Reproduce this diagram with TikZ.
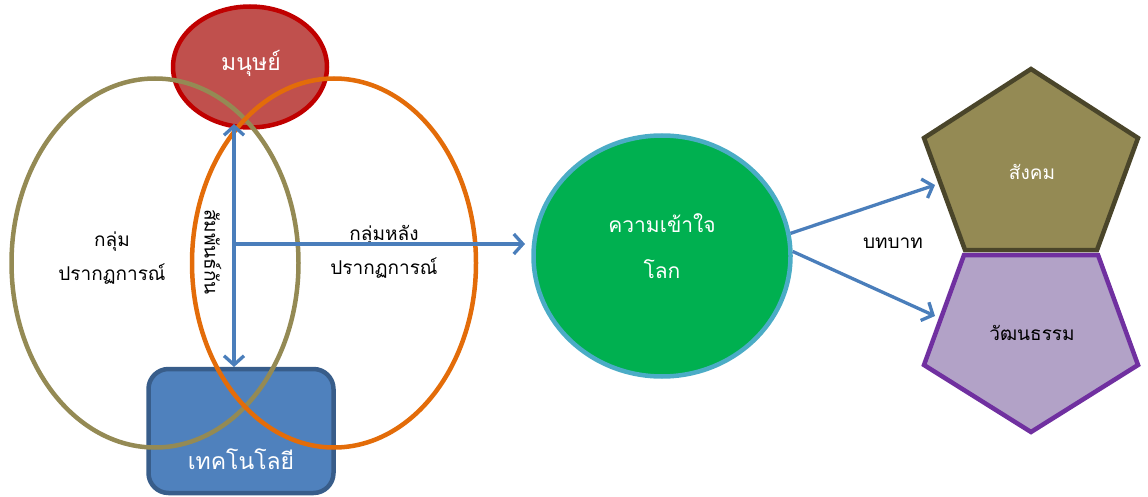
\documentclass[tikz,border=0pt]{standalone}
\usepackage{fontspec}
\newfontfamily\thaifont[Script=Thai]{Loma}
\usetikzlibrary{arrows.meta,shapes.geometric}
\definecolor{humfill}{HTML}{C0504D}
\definecolor{humline}{HTML}{C00000}
\definecolor{olive}{HTML}{948A54}
\definecolor{orng}{HTML}{E36C09}
\definecolor{techfill}{HTML}{4F81BD}
\definecolor{techline}{HTML}{385D8A}
\definecolor{arr}{HTML}{4A7EBB}
\definecolor{grn}{HTML}{00B050}
\definecolor{cyanl}{HTML}{4BACC6}
\definecolor{socline}{HTML}{4A452A}
\definecolor{culfill}{HTML}{B2A2C7}
\definecolor{culline}{HTML}{7030A0}
\tikzset{
  thaitxt/.style={font=\thaifont\fontsize{19}{34}\selectfont, align=center},
  whitetxt/.style={thaitxt, text=white},
  ring/.style={line width=4.5pt},
  conn/.style={draw=arr, line width=3.3pt, -{Straight Barb[length=9pt,width=20pt,line width=3.3pt]}},
  conn2/.style={draw=arr, line width=3.3pt, {Straight Barb[length=9pt,width=20pt,line width=3.3pt]}-{Straight Barb[length=9pt,width=20pt,line width=3.3pt]}},
}
\begin{document}
\begin{tikzpicture}[x=1pt,y=-1pt]
\useasboundingbox (0,0) rectangle (1148,497);
% human ellipse
\node[ellipse, minimum width=154pt, minimum height=121pt, fill=humfill, draw=humline, ring, inner sep=0pt] (hum) at (250,67) {};
\node[whitetxt, font=\thaifont\fontsize{23}{30}\selectfont] (humt) at (251,63) {มนุษย์};
% technology box
\node[rectangle, rounded corners=20pt, minimum width=185pt, minimum height=124pt, fill=techfill, draw=techline, ring] (tech) at (241,431) {};
\node[whitetxt, font=\thaifont\fontsize{23}{30}\selectfont] (techt) at (241,459) {เทคโนโลยี};
% big ellipses
\node[ellipse, minimum width=287pt, minimum height=369pt, draw=olive, ring, inner sep=0pt] (eL) at (155,263) {};
\node[ellipse, minimum width=284pt, minimum height=369pt, draw=orng, ring, inner sep=0pt] (eR) at (334,263) {};
% texts
\node[thaitxt] (lt) at (112,258) {กลุ่ม\\ปรากฏการณ์};
\node[thaitxt] (mt) at (384,252) {กลุ่มหลัง\\ปรากฏการณ์};
\node[thaitxt, rotate=-90] (vt) at (213,252) {สัมพันธ์กัน};
% arrows
\coordinate (vtop) at (234,124);
\coordinate (vbot) at (234,367);
\coordinate (hc) at (234,244);
\coordinate (he) at (525,244);
\draw[conn2] (vtop) -- (vbot);
\draw[conn] (hc) -- (he);
% green circle
\node[ellipse, minimum width=257pt, minimum height=241pt, fill=grn, draw=cyanl, ring, inner sep=0pt] (circ) at (662,256) {};
\node[whitetxt, font=\thaifont\fontsize{21}{46}\selectfont] (ct) at (662,246) {ความเข้าใจ\\โลก};
% pentagons
\coordinate (s1) at (1031,69);
\coordinate (s2) at (1138,138);
\coordinate (s3) at (1097,250);
\coordinate (s4) at (965,250);
\coordinate (s5) at (924,138);
\draw[fill=olive, draw=socline, ring, line join=miter] (s1) -- (s2) -- (s3) -- (s4) -- (s5) -- cycle;
\node[whitetxt] (soc) at (1032,172) {สังคม};
\coordinate (c1) at (964,255);
\coordinate (c2) at (1098,255);
\coordinate (c3) at (1138,365);
\coordinate (c4) at (1031,432);
\coordinate (c5) at (924,365);
\draw[fill=culfill, draw=culline, ring, line join=miter] (c1) -- (c2) -- (c3) -- (c4) -- (c5) -- cycle;
\node[thaitxt] (cul) at (1032,333) {วัฒนธรรม};
% role arrows
\coordinate (r1) at (935,185);
\coordinate (r2) at (935,316);
\draw[conn] (circ.10) -- (r1);
\draw[conn] (circ.2) -- (r2);
\node[thaitxt] (role) at (893,243) {บทบาท};
\end{tikzpicture}
\end{document}
